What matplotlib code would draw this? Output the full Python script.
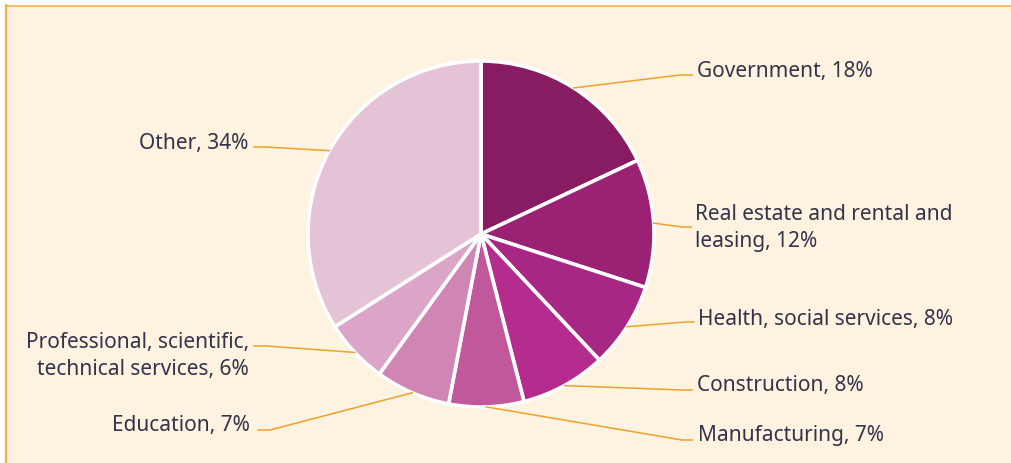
import numpy as np
import matplotlib
matplotlib.use("Agg")
import matplotlib.pyplot as plt
from matplotlib.lines import Line2D

categories = ["Government", "Real estate and rental and\nleasing", "Health, social services",
              "Construction", "Manufacturing", "Education",
              "Professional, scientific,\ntechnical services", "Other"]
values = [18, 12, 8, 8, 7, 7, 6, 34]
colors = ["#871C62", "#9A2174", "#A82684", "#B42C8E", "#C2589C", "#CF86B5", "#DAA5C6", "#E5C3D6"]

# layout (pixel coords, y from top)
W, H = 1012, 463
cx, cy, R = 481, 234, 173
# elbow / end of connector, label anchor, alignment
elbows = [(680, 75), (682, 227), (686, 322), (682, 390), (682, 440), (270, 430), (266, 346), (266, 147)]
ends = [(692, 75), (691, 227), (694, 322), (692, 390), (692, 440), (258, 430), (254, 346), (254, 147)]
label_pos = [(697, 71), (695, 228), (698, 319), (697, 386), (698, 436), (250, 426), (249, 356), (248, 143)]
aligns = ["left", "left", "left", "left", "left", "right", "right", "right"]

plt.rcParams['font.family'] = ['Noto Sans', 'DejaVu Sans']
fig = plt.figure(figsize=(W / 100, H / 100), dpi=100)
fig.patch.set_facecolor("white")
ax = fig.add_axes([0, 0, 1, 1])
ax.set_xlim(0, W)
ax.set_ylim(0, H)
ax.set_aspect('equal')
ax.axis('off')

def Y(y):
    return H - y

# background panel and border
ax.add_patch(plt.Rectangle((6, 0), W - 6, Y(5), facecolor="#FEF2E0", edgecolor="none", zorder=0))
ax.add_line(Line2D([6.5, 6.5], [0, Y(5)], color="#F2B24A", lw=1.6, zorder=1))
ax.add_line(Line2D([6, W], [Y(5.5), Y(5.5)], color="#F2B24A", lw=1.2, zorder=1))

wedges, _ = ax.pie(values, colors=colors, startangle=90, counterclock=False,
                   center=(cx, Y(cy)), radius=R,
                   wedgeprops=dict(edgecolor="white", linewidth=2.6), frame=True)
ax.set_xlim(0, W)
ax.set_ylim(0, H)
ax.axis('off')

for i, w in enumerate(wedges):
    ang = np.deg2rad((w.theta1 + w.theta2) / 2)
    sx = cx + R * np.cos(ang)
    sy = Y(cy) + R * np.sin(ang)
    ex, ey = elbows[i]
    fx, fy = ends[i]
    ax.add_line(Line2D([sx, ex, fx], [sy, Y(ey), Y(fy)], color="#EFA02E", lw=1.1, zorder=3))
    lx, ly = label_pos[i]
    ax.text(lx, Y(ly), f"{categories[i]}, {values[i]}%", ha=aligns[i], va="center",
            fontsize=15, color="#33334A", linespacing=1.4, zorder=4)

fig.savefig("out.png", dpi=100, facecolor=fig.get_facecolor())
